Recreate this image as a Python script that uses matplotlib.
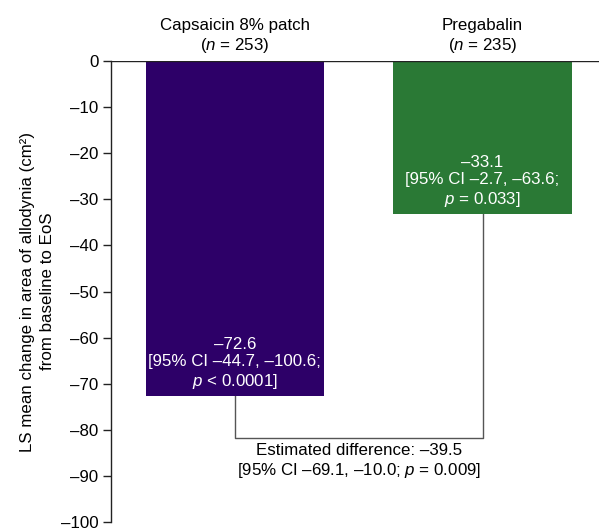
import numpy as np
import matplotlib
matplotlib.use("Agg")
import matplotlib.pyplot as plt
from matplotlib.ticker import FuncFormatter

plt.rcParams['font.family'] = ['Liberation Sans', 'DejaVu Sans']
plt.rcParams['mathtext.fontset'] = 'custom'
plt.rcParams['mathtext.rm'] = 'Liberation Sans'
plt.rcParams['mathtext.it'] = 'Liberation Sans:italic'

# data
groups = ["Capsaicin 8% patch", "Pregabalin"]
group_n = [253, 235]
ls_means = [-72.6, -33.1]
ci_text = ["[95% CI \u201344.7, \u2013100.6;", "[95% CI \u20132.7, \u201363.6;"]
p_text = [r"$\it{p}$ < 0.0001]", r"$\it{p}$ = 0.033]"]
diff_value = -39.5
diff_ci = "[95% CI \u201369.1, \u201310.0; "
diff_p = r"$\it{p}$ = 0.009]"
bracket_level = -81.7
colors = ["#2d0068", "#2a7935"]

fig = plt.figure(figsize=(5.99, 5.30), dpi=100)
ax = fig.add_axes([0.1853, 0.0151, 0.8147, 0.8698])

x = np.arange(len(groups))
ax.bar(x, ls_means, width=0.72, color=colors, zorder=2)

FS = 12.2
for xi, val, ci, p in zip(x, ls_means, ci_text, p_text):
    ax.text(xi, val + 1.0, "\u2013%.1f\n%s\n%s" % (abs(val), ci, p),
            ha="center", va="bottom", color="white", fontsize=FS,
            linespacing=1.2, zorder=3)

for xi, name, n in zip(x, groups, group_n):
    ax.text(xi, 1.4, name + "\n" + r"($\it{n}$ = %d)" % n,
            ha="center", va="bottom", fontsize=FS, linespacing=1.15,
            clip_on=False)

# bracket between bars
ax.plot([x[0], x[0], x[1], x[1]],
        [ls_means[0], bracket_level, bracket_level, ls_means[1]],
        color="#555555", lw=1.0, zorder=1)
ax.text((x[0] + x[1]) / 2, bracket_level - 1.1,
        "Estimated difference: \u2013%.1f\n%s%s" % (abs(diff_value), diff_ci, diff_p),
        ha="center", va="top", fontsize=FS, linespacing=1.2)

ax.axhline(0, color="#222222", lw=1.0, zorder=4)

ax.set_xlim(-0.5, 1.47)
ax.set_ylim(-100, 0)
ax.set_yticks(np.arange(-100, 1, 10))
ax.yaxis.set_major_formatter(FuncFormatter(
    lambda v, pos: "0" if v == 0 else "\u2013%d" % abs(v)))
ax.tick_params(axis="y", length=6, width=1, pad=3, labelsize=FS,
               color="#222222")
ax.set_xticks([])
for side in ["top", "right", "bottom"]:
    ax.spines[side].set_visible(False)
ax.spines["left"].set_color("#222222")
ax.spines["left"].set_linewidth(1.0)

ax.set_ylabel("LS mean change in area of allodynia (cm\u00b2)\nfrom baseline to EoS",
              fontsize=FS, linespacing=1.45, labelpad=4)

fig.savefig("out.png", dpi=100)
